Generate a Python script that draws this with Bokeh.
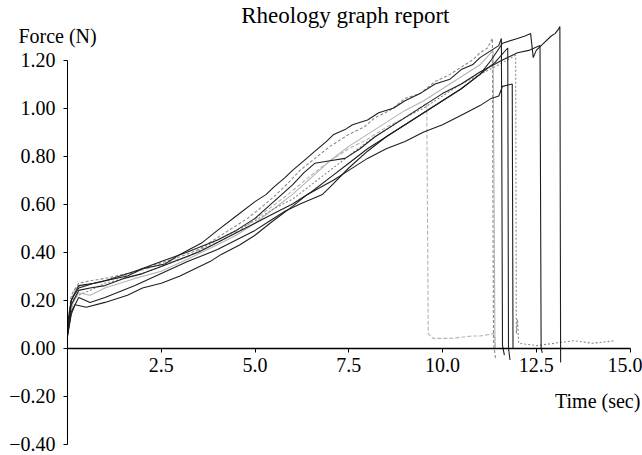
from bokeh.plotting import figure
from bokeh.embed import file_html
from bokeh.resources import INLINE
from bokeh.models import Range1d, FixedTicker, CustomJSTickFormatter, Label

# ---- data ----
x_ticks = [2.5, 5.0, 7.5, 10.0, 12.5, 15.0]
y_ticks = [-0.4, -0.2, 0.0, 0.2, 0.4, 0.6, 0.8, 1.0, 1.2]

time_a = [0.0, 0.08, 0.2, 0.4, 0.8, 1.5, 2.5, 3.2, 4.0, 4.6, 5.2, 5.8, 6.5, 7.0, 7.5, 8.0, 8.5, 9.0, 9.58, 9.62, 9.75, 10.2, 10.8, 11.0, 11.38, 11.42]
force_a = [0.06, 0.18, 0.25, 0.26, 0.27, 0.30, 0.35, 0.38, 0.44, 0.49, 0.56, 0.63, 0.72, 0.78, 0.83, 0.87, 0.92, 0.96, 1.02, 0.06, 0.04, 0.04, 0.05, 0.05, 0.06, 0.0]

time_b = [0.0, 0.1, 0.3, 0.6, 1.0, 1.6, 2.0, 2.6, 3.0, 3.5, 4.0, 4.4, 4.8, 5.2, 5.5, 5.9, 6.2, 6.6, 7.0, 7.5, 7.9, 8.2, 8.6, 9.0, 9.4, 9.8, 10.2, 10.5, 10.8, 11.0, 11.2, 11.33, 11.36, 11.42]
force_b = [0.08, 0.22, 0.27, 0.28, 0.29, 0.31, 0.33, 0.36, 0.38, 0.41, 0.46, 0.50, 0.54, 0.59, 0.63, 0.69, 0.74, 0.79, 0.84, 0.89, 0.92, 0.96, 0.99, 1.04, 1.06, 1.11, 1.14, 1.17, 1.20, 1.23, 1.25, 1.29, 0.02, -0.05]

time_c = [0.0, 0.1, 0.3, 0.7, 1.0, 1.6, 2.0, 2.6, 3.0, 3.6, 4.0, 4.5, 5.0, 5.3, 5.5, 5.8, 6.0, 6.3, 6.6, 6.9, 7.1, 7.4, 7.6, 8.0, 8.3, 8.7, 9.0, 9.4, 9.8, 10.2, 10.5, 10.8, 11.0, 11.3, 11.5, 11.57, 11.6, 11.65]
force_c = [0.07, 0.20, 0.26, 0.27, 0.28, 0.30, 0.33, 0.35, 0.39, 0.44, 0.49, 0.55, 0.61, 0.64, 0.67, 0.71, 0.74, 0.78, 0.82, 0.86, 0.89, 0.91, 0.93, 0.95, 0.98, 1.00, 1.03, 1.06, 1.10, 1.12, 1.16, 1.18, 1.21, 1.24, 1.26, 1.29, 0.01, -0.03]

time_d = [0.0, 0.1, 0.3, 0.6, 1.0, 1.5, 2.0, 2.5, 3.0, 3.5, 4.0, 4.5, 5.0, 5.5, 6.0, 6.5, 7.0, 7.5, 8.0, 8.5, 9.0, 9.5, 10.0, 10.5, 11.0, 11.4, 11.74, 11.76, 11.8]
force_d = [0.06, 0.18, 0.24, 0.25, 0.26, 0.29, 0.31, 0.34, 0.37, 0.40, 0.44, 0.48, 0.52, 0.56, 0.60, 0.65, 0.71, 0.77, 0.83, 0.88, 0.93, 0.98, 1.03, 1.08, 1.14, 1.19, 1.25, 0.0, -0.05]

time_e = [0.0, 0.12, 0.3, 0.6, 1.0, 1.8, 2.5, 3.2, 4.0, 4.5, 5.0, 5.5, 6.0, 6.5, 7.0, 7.5, 8.0, 8.5, 9.0, 9.5, 10.0, 10.5, 11.0, 11.5, 11.95, 11.97, 12.0, 12.03, 12.5, 13.0, 13.5, 14.0, 14.6]
force_e = [0.07, 0.20, 0.22, 0.24, 0.27, 0.30, 0.34, 0.38, 0.45, 0.49, 0.53, 0.58, 0.62, 0.68, 0.74, 0.80, 0.86, 0.91, 0.96, 1.00, 1.05, 1.10, 1.14, 1.18, 1.22, 0.06, 0.12, 0.02, 0.01, 0.02, 0.03, 0.02, 0.03]

time_f = [0.0, 0.0, 0.1, 0.2, 0.5, 1.0, 1.6, 2.0, 2.5, 3.0, 3.4, 3.8, 4.1, 4.6, 5.0, 5.4, 6.0, 6.4, 6.75, 7.1, 7.5, 8.0, 8.5, 9.0, 9.5, 10.0, 10.5, 11.0, 11.3, 11.5, 11.6, 11.86, 11.88]
force_f = [-0.38, 0.05, 0.14, 0.18, 0.17, 0.19, 0.22, 0.25, 0.27, 0.30, 0.33, 0.36, 0.39, 0.43, 0.47, 0.52, 0.59, 0.64, 0.67, 0.70, 0.74, 0.79, 0.83, 0.86, 0.90, 0.93, 0.97, 1.01, 1.04, 1.05, 1.09, 1.10, 0.0]

time_g = [0.0, 0.1, 0.3, 0.6, 1.0, 1.8, 2.5, 3.2, 4.0, 4.5, 5.0, 5.4, 5.8, 6.2, 6.5, 6.8, 7.0, 7.5, 8.0, 8.5, 9.0, 9.5, 10.0, 10.5, 11.0, 11.3, 11.6, 12.0, 12.2, 12.35, 12.42, 12.5, 12.7, 12.9, 13.0, 13.1, 13.13, 13.15]
force_g = [0.05, 0.15, 0.21, 0.19, 0.21, 0.26, 0.31, 0.36, 0.41, 0.45, 0.49, 0.53, 0.57, 0.60, 0.62, 0.64, 0.67, 0.75, 0.82, 0.88, 0.93, 0.98, 1.03, 1.08, 1.14, 1.20, 1.27, 1.29, 1.30, 1.31, 1.21, 1.24, 1.27, 1.30, 1.31, 1.33, 1.34, -0.06]

time_h = [0.0, 0.1, 0.3, 0.7, 1.0, 1.8, 2.5, 3.2, 4.0, 4.5, 5.0, 5.5, 6.0, 6.3, 6.6, 7.0, 7.4, 7.8, 8.2, 9.0, 9.5, 10.0, 10.5, 11.0, 11.6, 12.0, 12.3, 12.6, 12.63, 12.66]
force_h = [0.10, 0.20, 0.25, 0.27, 0.28, 0.32, 0.36, 0.40, 0.45, 0.49, 0.54, 0.61, 0.68, 0.73, 0.77, 0.78, 0.79, 0.83, 0.88, 0.96, 1.01, 1.06, 1.10, 1.15, 1.20, 1.23, 1.24, 1.26, 0.0, -0.02]

time_i = [0.0, 0.15, 0.3, 0.6, 1.0, 1.8, 2.5, 3.2, 4.0, 4.5, 5.0, 5.5, 6.0, 6.5, 7.0, 7.5, 8.0, 8.5, 9.0, 9.5, 10.0, 10.5, 11.0, 11.35, 11.4]
force_i = [0.06, 0.19, 0.23, 0.22, 0.25, 0.29, 0.32, 0.37, 0.43, 0.47, 0.52, 0.58, 0.64, 0.71, 0.78, 0.84, 0.89, 0.94, 0.99, 1.03, 1.08, 1.13, 1.18, 1.24, 0.0]

DARK = "#1e1e1e"
GRAY = "#8a8a8a"
LIGHT = "#b4b4b4"
FONT = "Liberation Serif"

curves = [
    (time_a, force_a, LIGHT, "4 2"),
    (time_b, force_b, GRAY, "3 2"),
    (time_i, force_i, LIGHT, "solid"),
    (time_e, force_e, GRAY, "2 2"),
    (time_c, force_c, DARK, "solid"),
    (time_d, force_d, DARK, "solid"),
    (time_f, force_f, DARK, "solid"),
    (time_g, force_g, DARK, "solid"),
    (time_h, force_h, DARK, "solid"),
]

# frame fills the whole canvas: 37.5 px per second, 240 px per newton
p = figure(width=642, height=455, output_backend="svg", toolbar_location=None, title=None,
           x_range=Range1d(-67 / 37.5, 575 / 37.5), y_range=Range1d(-107.5 / 240, 347.5 / 240),
           min_border_left=0, min_border_right=0, min_border_top=0, min_border_bottom=0)
p.background_fill_color = "white"
p.border_fill_color = "white"
p.outline_line_color = None
p.grid.visible = False

for t, f, c, d in curves:
    p.line(t, f, line_color=c, line_width=1.1, line_dash=d)

xa = p.xaxis[0]
xa.fixed_location = 0
xa.bounds = (0, 15)
xa.ticker = FixedTicker(ticks=x_ticks)
xa.formatter = CustomJSTickFormatter(code="return tick.toFixed(1);")
xa.major_tick_in = 0
xa.major_tick_out = 4
xa.minor_tick_in = 0
xa.minor_tick_out = 0
xa.axis_line_width = 1.5
xa.axis_line_color = "black"
xa.major_label_standoff = 6
xa.major_label_text_font = FONT
xa.major_label_text_font_size = "20px"
xa.major_label_text_color = "black"

ya = p.yaxis[0]
ya.fixed_location = 0
ya.bounds = (-0.4, 1.2)
ya.ticker = FixedTicker(ticks=y_ticks)
ya.formatter = CustomJSTickFormatter(code="return tick.toFixed(2).replace('-', '\\u2212');")
ya.major_tick_in = 0
ya.major_tick_out = 4
ya.minor_tick_in = 0
ya.minor_tick_out = 0
ya.axis_line_color = "black"
ya.major_label_standoff = 8
ya.major_label_text_font = FONT
ya.major_label_text_font_size = "20px"
ya.major_label_text_color = "black"

p.add_layout(Label(x=7.41, y=1.385, text="Rheology graph report", text_font=FONT, text_font_size="23px",
                   text_baseline="middle", text_align="center", text_color="black"))
p.add_layout(Label(x=-1.31, y=1.298, text="Force (N)", text_font=FONT, text_font_size="20px",
                   text_baseline="middle", text_align="left", text_color="black"))
p.add_layout(Label(x=13.0, y=-0.219, text="Time (sec)", text_font=FONT, text_font_size="20px",
                   text_baseline="middle", text_align="left", text_color="black"))

open("out.html", "w").write(file_html(p, INLINE))
